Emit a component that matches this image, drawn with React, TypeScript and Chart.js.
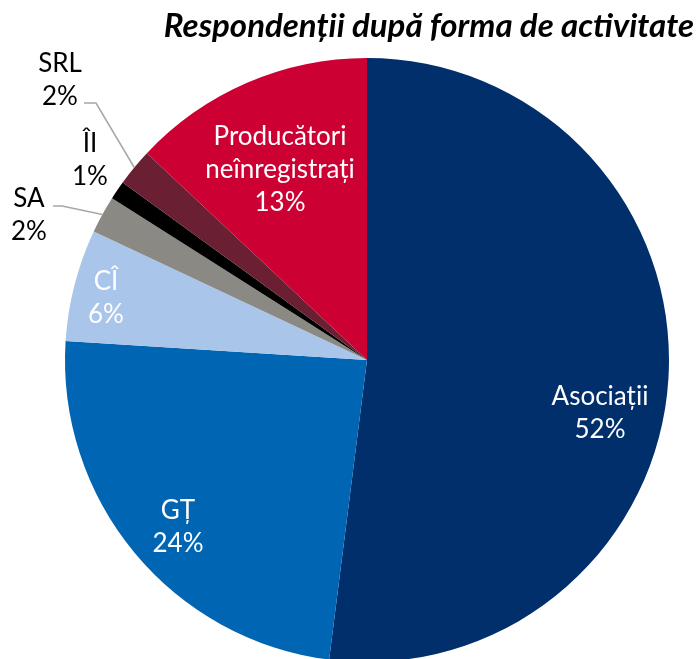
import React, { useEffect, useRef } from "react";
import { Chart, registerables } from "chart.js";

Chart.register(...registerables);

const TITLE = "Respondenții după forma de activitate";
const categories = ["Asociații", "GȚ", "CÎ", "SA", "ÎI", "SRL", "Producători neînregistrați"];
const values = [52, 24, 6, 2, 1, 2, 13];
const colors = ["#002f6c", "#0066b3", "#a9c6ea", "#8b8983", "#000000", "#6b1f33", "#cc0033"];

// label layout (style only): text center x, first baseline y, color, leader line
const labelLayout = [
  { x: 600, y: 405, color: "#ffffff", leader: null },
  { x: 178, y: 519, color: "#ffffff", leader: null },
  { x: 106, y: 290, color: "#ffffff", leader: null },
  { x: 29, y: 207, color: "#000000", leader: { x0: 53, x1: 62, y: 206 } },
  { x: 90, y: 152, color: "#000000", leader: null },
  { x: 60, y: 72, color: "#000000", leader: { x0: 84, x1: 96, y: 103 } },
  { x: 280, y: 145, color: "#ffffff", leader: null },
];

const FONT = "Lato, 'Open Sans', sans-serif";

const labelsPlugin = {
  id: "customLabels",
  afterDraw(chart: any) {
    const ctx = chart.ctx;
    ctx.save();
    ctx.font = `italic bold 33px ${FONT}`;
    ctx.fillStyle = "#000000";
    ctx.textAlign = "right";
    ctx.textBaseline = "alphabetic";
    ctx.fillText(TITLE, 694, 37);

    const meta = chart.getDatasetMeta(0);
    meta.data.forEach((arc: any, i: number) => {
      const lay = labelLayout[i];
      const lines = [...categories[i].split(" "), `${values[i]}%`];
      ctx.font = `26px ${FONT}`;
      ctx.fillStyle = lay.color;
      ctx.textAlign = "center";
      lines.forEach((t, j) => ctx.fillText(t, lay.x, lay.y + j * 33));
      if (lay.leader) {
        const mid = (arc.startAngle + arc.endAngle) / 2;
        const ex = arc.x + Math.cos(mid) * arc.outerRadius;
        const ey = arc.y + Math.sin(mid) * arc.outerRadius;
        ctx.strokeStyle = "#a6a6a6";
        ctx.lineWidth = 1.5;
        ctx.beginPath();
        ctx.moveTo(lay.leader.x0, lay.leader.y);
        ctx.lineTo(lay.leader.x1, lay.leader.y);
        ctx.lineTo(ex, ey);
        ctx.stroke();
      }
    });
    ctx.restore();
  },
};

export default function App() {
  const ref = useRef<HTMLCanvasElement | null>(null);
  useEffect(() => {
    if (!ref.current) return;
    const chart = new Chart(ref.current, {
      type: "pie",
      data: {
        labels: categories,
        datasets: [
          {
            data: values,
            backgroundColor: colors,
            borderWidth: 0,
          },
        ],
      },
      options: {
        responsive: false,
        animation: false,
        layout: { padding: { top: 58, bottom: 0, left: 65, right: 31 } },
        plugins: {
          legend: { display: false },
          title: { display: false },
          tooltip: { enabled: false },
        },
      },
      plugins: [labelsPlugin],
    });
    return () => chart.destroy();
  }, []);
  return (
    <div
      style={{
        position: "fixed",
        left: 0,
        top: 0,
        width: 700,
        height: 659,
        overflow: "hidden",
        background: "#ffffff",
      }}
    >
      <canvas ref={ref} width={700} height={662} style={{ width: 700, height: 662, display: "block" }} />
    </div>
  );
}
